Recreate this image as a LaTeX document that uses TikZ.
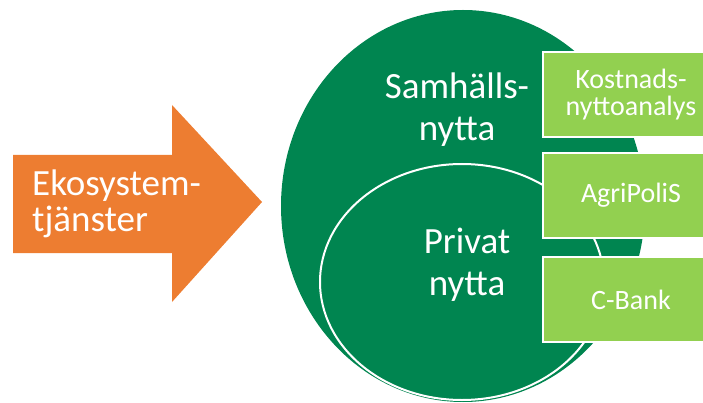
\documentclass[tikz,border=0pt]{standalone}
\usepackage{fontspec}
\setmainfont{Carlito}
\usetikzlibrary{shapes.geometric}
\definecolor{darkgreen}{RGB}{0,133,80}
\definecolor{lightgreen}{RGB}{146,208,80}
\definecolor{arroworange}{RGB}{237,125,49}

\begin{document}
\begin{tikzpicture}[x=1pt,y=-1pt,
  big text/.style={text=white,font=\fontsize{37}{42}\selectfont,align=center},
  box node/.style={rectangle,fill=lightgreen,draw=white,line width=1.5pt,minimum width=176pt,
    minimum height=85pt,text=white,font=\fontsize{28}{27}\selectfont,align=center,inner sep=0pt}]

  \useasboundingbox (0,0) rectangle (703,403);
  \clip (0,0) rectangle (703,403);

  % arrow
  \fill[arroworange] (13,155) -- (172,155) -- (172,105) -- (262,202) -- (172,302) -- (172,253) -- (13,253) -- cycle;
  \node[text=white,font=\fontsize{37}{36}\selectfont,align=left,anchor=west,inner sep=0pt] (eko) at (32,204) {Ekosystem-\\tjänster};

  % circles
  \node[ellipse,fill=darkgreen,minimum width=364pt,minimum height=392pt,inner sep=0pt] (samh) at (463,206) {};
  \node[ellipse,fill=darkgreen,draw=white,line width=2pt,minimum width=284pt,minimum height=236pt,inner sep=0pt] (priv) at (462,282) {};

  \node[big text] (samhtext) at (457,110) {Samhälls-\\nytta};
  \node[big text] (privtext) at (467,265) {Privat\\nytta};

  % boxes
  \node[box node] (k1) at (631,94.5) {Kostnads-\\nyttoanalys};
  \node[box node] (k2) at (631,195.5) {AgriPoliS};
  \node[box node] (k3) at (631,299.5) {C-Bank};

\end{tikzpicture}
\end{document}
